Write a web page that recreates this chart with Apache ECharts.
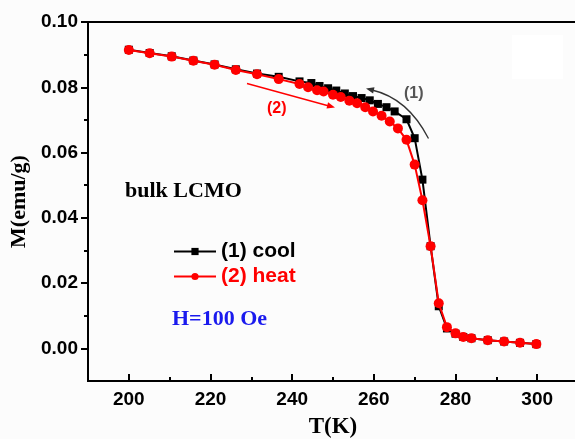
<!DOCTYPE html>
<html>
<head>
<meta charset="utf-8">
<script src="https://cdn.jsdelivr.net/npm/echarts@6/dist/echarts.min.js"></script>
<style>
html,body{margin:0;padding:0;background:#fcfcfc;}
#chart{width:575px;height:439px;}
</style>
</head>
<body>
<div id="chart"></div>
<script>
// ---- data ----
const tempCool = [200, 205.1, 210.5, 215.8, 221, 226.2, 231.4, 236.7, 241.8, 244.7, 246.7, 248.8, 250.8, 252.9, 254.9, 257, 259, 261, 263.1, 265.1, 268, 270, 271.9, 273.9, 275.9, 277.9, 280, 281.9, 283.9, 287.9, 291.9, 295.8, 299.8];
const magCool  = [0.0915, 0.0905, 0.0895, 0.0882, 0.0870, 0.0855, 0.0842, 0.0832, 0.0818, 0.0813, 0.0804, 0.0797, 0.0790, 0.0781, 0.0773, 0.0767, 0.0760, 0.0749, 0.0739, 0.0726, 0.0702, 0.0644, 0.0517, 0.0313, 0.0129, 0.0061, 0.0045, 0.0035, 0.0031, 0.0025, 0.0021, 0.0017, 0.0013];
const tempHeat = [200, 205.1, 210.5, 215.8, 221, 226.2, 231.4, 236.7, 241.8, 243.9, 246.1, 247.7, 250, 251.9, 254, 255.9, 257.9, 259.8, 261.9, 263.9, 265.9, 268, 270, 271.9, 273.9, 275.9, 277.9, 280, 281.9, 283.9, 287.9, 291.9, 295.8, 299.8];
const magHeat  = [0.0914, 0.0904, 0.0894, 0.0881, 0.0869, 0.0853, 0.0840, 0.0825, 0.0810, 0.0800, 0.0791, 0.0787, 0.0777, 0.0770, 0.0759, 0.0751, 0.0739, 0.0726, 0.0713, 0.0695, 0.0674, 0.0639, 0.0563, 0.0454, 0.0313, 0.0138, 0.0065, 0.0046, 0.0035, 0.0031, 0.0025, 0.0021, 0.0017, 0.0013];
const xMajorTicks = [200, 220, 240, 260, 280, 300];
const xMinorTicks = [210, 230, 250, 270, 290];
const yMajorTicks = [0.00, 0.02, 0.04, 0.06, 0.08, 0.10];
const yMinorTicks = [0.01, 0.03, 0.05, 0.07, 0.09];
const seriesNames = ['(1) cool', '(2) heat'];

const coolData = tempCool.map((t, i) => [t, magCool[i]]);
const heatData = tempHeat.map((t, i) => [t, magHeat[i]]);

const SERIF = '"Liberation Serif", "Times New Roman", serif';
const SANS = '"Liberation Sans", Arial, sans-serif';

const chart = echarts.init(document.getElementById('chart'), null, {renderer: 'canvas'});
const xBase = {type: 'value', min: 190, max: 310, splitLine: {show: false}};
const yBase = {type: 'value', min: -0.01, max: 0.10, splitLine: {show: false}};

chart.setOption({
  backgroundColor: '#fcfcfc',
  animation: false,
  grid: {left: 88, top: 22, right: -3, bottom: 58, containLabel: false, outerBoundsMode: 'none',
    show: true, borderColor: '#000', borderWidth: 2, backgroundColor: 'transparent'},
  xAxis: [
    Object.assign({}, xBase, {
      position: 'bottom',
      name: 'T(K)', nameLocation: 'middle', nameGap: 35,
      nameTextStyle: {fontFamily: SERIF, fontWeight: 'bold', fontSize: 23, color: '#000'},
      axisLine: {show: true, onZero: false, lineStyle: {color: '#000', width: 2}},
      axisTick: {show: true, inside: true, length: 7, lineStyle: {color: '#000', width: 2}, customValues: xMajorTicks},
      axisLabel: {show: true, customValues: xMajorTicks, margin: 9, fontFamily: SANS, fontWeight: 'bold', fontSize: 19, color: '#000'}
    }),
    Object.assign({}, xBase, {
      position: 'bottom',
      axisLine: {show: false, onZero: false},
      axisTick: {show: true, inside: true, length: 4, lineStyle: {color: '#000', width: 2}, customValues: xMinorTicks},
      axisLabel: {show: false}
    })
  ],
  yAxis: [
    Object.assign({}, yBase, {
      position: 'left',
      name: 'M(emu/g)', nameLocation: 'middle', nameGap: 58, nameRotate: 90,
      nameTextStyle: {fontFamily: SERIF, fontWeight: 'bold', fontSize: 22, color: '#000'},
      axisLine: {show: true, onZero: false, lineStyle: {color: '#000', width: 2}},
      axisTick: {show: true, inside: false, length: 7, lineStyle: {color: '#000', width: 2}, customValues: yMajorTicks},
      axisLabel: {show: true, customValues: yMajorTicks, margin: 10, fontFamily: SANS, fontWeight: 'bold', fontSize: 19, color: '#000',
        formatter: v => Number(v).toFixed(2)}
    }),
    Object.assign({}, yBase, {
      position: 'left',
      axisLine: {show: false, onZero: false},
      axisTick: {show: true, inside: false, length: 4, lineStyle: {color: '#000', width: 2}, customValues: yMinorTicks},
      axisLabel: {show: false}
    })
  ],
  legend: {
    orient: 'vertical', left: 168, top: 236, itemGap: 4, itemWidth: 42, itemHeight: 9,
    data: [
      {name: seriesNames[0], textStyle: {color: '#000'}},
      {name: seriesNames[1], textStyle: {color: '#f00'}}
    ],
    textStyle: {fontFamily: SANS, fontWeight: 'bold', fontSize: 21}
  },
  series: [
    {
      name: seriesNames[0], type: 'line', data: coolData, xAxisIndex: 0, yAxisIndex: 0,
      symbol: 'rect', symbolSize: 8, z: 2,
      lineStyle: {color: '#000', width: 2}, itemStyle: {color: '#000'}
    },
    {
      name: seriesNames[1], type: 'line', data: heatData, xAxisIndex: 0, yAxisIndex: 0,
      symbol: 'circle', symbolSize: 10, z: 3,
      lineStyle: {color: '#f00', width: 2}, itemStyle: {color: '#f00'}
    }
  ],
  graphic: [
    {type: 'rect', shape: {x: 512, y: 35, width: 51, height: 44}, style: {fill: '#ffffff'}, z: 1},
    {type: 'text', left: 125, top: 180, style: {text: 'bulk LCMO', font: 'bold 22px ' + SERIF, fill: '#000'}},
    {type: 'text', left: 172, top: 308, style: {text: 'H=100 Oe', font: 'bold 22px ' + SERIF, fill: '#1a1aee'}},
    {type: 'text', left: 404, top: 86, style: {text: '(1)', font: 'bold 16px ' + SANS, fill: '#555'}},
    {type: 'text', left: 267, top: 101, style: {text: '(2)', font: 'bold 16px ' + SANS, fill: '#f00'}},
    {type: 'line', shape: {x1: 247, y1: 83.5, x2: 329, y2: 106}, style: {stroke: '#f00', lineWidth: 1.3}},
    {type: 'polygon', shape: {points: [[335, 107.5], [326.5, 108.4], [328.1, 102.2]]}, style: {fill: '#f00'}},
    {type: 'bezierCurve', shape: {x1: 428.5, y1: 138.5, x2: 372, y2: 90, cpx1: 407.75, cpy1: 98.25}, style: {stroke: '#333', lineWidth: 1.3, fill: null}},
    {type: 'polygon', shape: {points: [[366, 88.5], [374.5, 87.2], [373.1, 93.4]]}, style: {fill: '#333'}}
  ]
});
</script>
</body>
</html>
